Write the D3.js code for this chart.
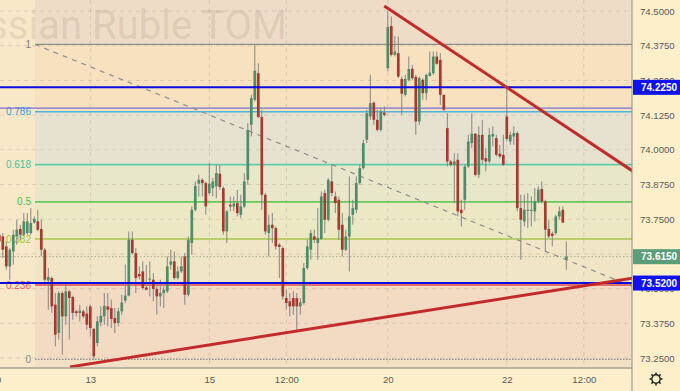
<!DOCTYPE html>
<html><head><meta charset="utf-8">
<script src="https://cdn.jsdelivr.net/npm/d3@7"></script>
<style>
html,body{margin:0;padding:0;background:#fcefca;}
svg{display:block;}
</style></head>
<body><svg id="c" width="680" height="391"></svg>
<script>
// ---- DATA (hourly candles, USD/RUB TOM, index 0 = first visible hour) ----
const opens = [73.694,73.688,73.652,73.580,73.634,73.688,73.715,73.694,73.700,73.700,
73.738,73.742,73.715,73.640,73.529,73.538,73.442,73.340,73.484,73.400,
73.490,73.470,73.418,73.412,73.418,73.410,73.436,73.355,73.304,73.378,
73.400,73.436,73.430,73.394,73.376,73.418,73.457,73.475,73.676,73.628,
73.553,73.562,73.504,73.532,73.532,73.499,73.472,73.484,73.490,73.586,
73.598,73.538,73.562,73.616,73.478,73.664,73.784,73.878,73.892,73.880,
73.844,73.862,73.868,73.914,73.862,73.706,73.802,73.796,73.808,73.766,
73.796,73.892,74.090,74.180,74.276,74.118,73.838,73.700,73.730,73.718,
73.658,73.646,73.466,73.454,73.466,73.466,73.436,73.448,73.574,73.640,
73.688,73.664,73.679,73.844,73.748,73.886,73.832,73.820,73.730,73.640,
73.688,73.766,73.784,73.880,73.934,74.036,74.120,74.170,74.108,74.072,
74.134,74.294,74.446,74.342,74.348,74.255,74.198,74.252,74.292,74.262,
74.102,74.252,74.204,74.266,74.276,74.336,74.324,74.198,74.078,73.958,
73.946,73.964,73.784,73.820,73.940,74.024,74.058,73.910,74.054,73.970,
73.958,74.048,74.042,73.986,73.982,74.120,74.030,74.048,74.060,73.790,
73.742,73.780,73.780,73.778,73.814,73.859,73.814,73.715,73.698,73.700,
73.760,73.784,73.605];
const highs = [73.706,73.700,73.670,73.646,73.712,73.748,73.730,73.772,73.772,73.790,
73.760,73.784,73.748,73.646,73.574,73.544,73.484,73.490,73.490,73.514,
73.496,73.474,73.424,73.442,73.424,73.436,73.442,73.358,73.400,73.436,
73.484,73.484,73.460,73.430,73.430,73.478,73.586,73.706,73.706,73.646,
73.580,73.598,73.586,73.598,73.556,73.508,73.532,73.508,73.616,73.640,
73.634,73.580,73.616,73.628,73.688,73.796,73.886,73.910,73.898,73.886,
73.952,73.898,73.946,73.946,73.868,73.784,73.832,73.832,73.856,73.838,
73.916,74.096,74.198,74.378,74.312,74.144,73.844,73.766,73.772,73.724,
73.664,73.652,73.496,73.484,73.490,73.484,73.466,73.592,73.676,73.712,
73.712,73.790,73.850,73.856,73.898,73.946,73.850,73.832,73.772,73.712,
73.904,73.820,73.904,73.946,74.036,74.144,74.270,74.174,74.144,74.150,
74.156,74.498,74.480,74.410,74.408,74.264,74.270,74.336,74.306,74.270,
74.264,74.258,74.274,74.354,74.354,74.354,74.348,74.198,74.132,73.964,
73.988,73.988,73.820,73.946,74.054,74.132,74.060,74.084,74.108,74.006,
74.078,74.084,74.054,74.018,74.054,74.228,74.066,74.084,74.066,73.838,
73.838,73.844,73.832,73.862,73.868,73.886,73.820,73.748,73.706,73.766,
73.796,73.796,73.670];
const lows = [73.664,73.610,73.568,73.532,73.586,73.658,73.676,73.688,73.694,73.694,
73.734,73.706,73.616,73.514,73.424,73.412,73.292,73.316,73.262,73.370,
73.316,73.388,73.400,73.382,73.394,73.352,73.328,73.244,73.292,73.364,
73.370,73.364,73.358,73.340,73.364,73.406,73.448,73.472,73.622,73.484,
73.532,73.496,73.493,73.472,73.454,73.406,73.436,73.430,73.484,73.568,
73.532,73.532,73.556,73.442,73.472,73.622,73.778,73.832,73.832,73.766,
73.838,73.832,73.826,73.856,73.694,73.664,73.778,73.778,73.760,73.754,
73.790,73.874,74.048,74.174,74.114,73.784,73.694,73.616,73.664,73.640,
73.538,73.460,73.424,73.400,73.406,73.352,73.406,73.442,73.568,73.604,
73.664,73.604,73.676,73.700,73.742,73.832,73.772,73.676,73.616,73.634,
73.562,73.730,73.772,73.874,73.928,74.024,74.108,74.090,74.066,74.066,
74.120,74.282,74.336,74.336,74.258,74.126,74.192,74.246,74.252,74.054,
74.090,74.180,74.180,74.264,74.270,74.306,74.162,74.138,73.940,73.940,
73.808,73.760,73.724,73.784,73.934,74.006,73.904,73.898,73.946,73.922,
73.952,74.012,73.976,73.970,73.942,74.030,74.018,74.018,73.778,73.604,
73.724,73.718,73.724,73.742,73.808,73.808,73.634,73.682,73.652,73.694,
73.748,73.736,73.568];
const closes = [73.670,73.640,73.580,73.640,73.694,73.712,73.694,73.742,73.742,73.736,
73.751,73.712,73.640,73.532,73.542,73.436,73.334,73.484,73.400,73.490,
73.466,73.412,73.412,73.421,73.400,73.370,73.358,73.256,73.382,73.402,
73.438,73.424,73.391,73.376,73.418,73.450,73.475,73.676,73.628,73.538,
73.544,73.502,73.496,73.536,73.499,73.472,73.484,73.496,73.580,73.598,
73.538,73.562,73.580,73.478,73.676,73.784,73.870,73.892,73.880,73.796,
73.878,73.886,73.916,73.866,73.706,73.778,73.796,73.806,73.772,73.796,
73.886,74.072,74.186,74.285,74.118,73.838,73.706,73.730,73.718,73.652,
73.650,73.472,73.448,73.436,73.436,73.436,73.450,73.574,73.652,73.700,
73.676,73.682,73.832,73.748,73.892,73.844,73.808,73.712,73.640,73.688,
73.760,73.790,73.880,73.934,74.024,74.132,74.168,74.108,74.072,74.138,
74.126,74.442,74.342,74.354,74.264,74.202,74.255,74.291,74.258,74.102,
74.258,74.204,74.270,74.278,74.336,74.310,74.198,74.144,73.958,73.946,
73.958,73.778,73.772,73.940,74.030,74.058,73.910,74.054,73.964,73.958,
74.054,74.057,73.982,73.976,73.946,74.039,74.054,74.060,73.790,73.748,
73.784,73.784,73.784,73.814,73.856,73.814,73.712,73.688,73.690,73.760,
73.778,73.738,73.615];

const priceTicks = [73.25,73.375,73.5,73.625,73.75,73.875,74.0,74.125,74.25,74.375,74.5];
const hiddenTickLabels = [73.625];
const timeTickIdx = [-3,26,60,82,111,145,167];
const timeTickLabels = ["12:00","13","15","12:00","20","22","12:00"];
const fibLevels = [1,0.786,0.618,0.5,0.382,0.236,0];
const fibLabels = ["1","0.786","0.618","0.5","0.382","0.236","0"];
const fibHigh = 74.380, fibLow = 73.245, fibStartIdx = 10.2;
const blueLevels = [74.225, 73.52];
const purpleLevel = 74.15;
const lastPrice = 73.615;
const trendDown = [[110,74.518],[181,73.923]];
const trendUp = [[20.2,73.218],[181,73.538]];
const fibDiag = [[10.2,74.380],[181,73.507]];

// ---- LAYOUT ----
const W=680,H=391, plotR=632, plotB=368;
const svg=d3.select("#c");
const x=d3.scaleLinear().domain([0,162]).range([-0.7,566.3]);
const y=d3.scaleLinear().domain([73.25,74.5]).range([358,11]);

svg.append("rect").attr("width",W).attr("height",H).attr("fill","#fcefca");
svg.append("defs").append("clipPath").attr("id","pc").append("rect").attr("width",plotR).attr("height",plotB);
const plot=svg.append("g").attr("clip-path","url(#pc)");
plot.append("rect").attr("width",plotR).attr("height",plotB).attr("fill","#f8e8c8");

// fib zones
const fx=x(fibStartIdx);
const fp=l=>fibLow+(fibHigh-fibLow)*l;
const zoneCols=["#efdcc6","#f7e1bf","#e7e2cf","#e9e7c9","#ece8c4","#f0e5c4","#f2dac3","#f3e1c5"];
const bounds=[0].concat(fibLevels.map(l=>y(fp(l)))).concat([plotB]);
for(let k=0;k<bounds.length-1;k++){
  plot.append("rect").attr("x",fx).attr("y",bounds[k]).attr("width",plotR-fx)
    .attr("height",bounds[k+1]-bounds[k]).attr("fill",zoneCols[k]);
}

// watermark
plot.append("text").attr("x",287).attr("y",39).attr("text-anchor","end")
  .attr("font-family","Roboto, 'Liberation Sans', sans-serif").attr("font-size",40)
  .attr("fill","#8a7560").attr("fill-opacity",0.17).text("U.S. Dollar / Russian Ruble TOM");

// grid
plot.selectAll(".hg").data(priceTicks).enter().append("line")
  .attr("x1",0).attr("x2",plotR).attr("y1",d=>y(d)).attr("y2",d=>y(d))
  .attr("stroke","#b4aaa0").attr("stroke-opacity",0.45).attr("stroke-dasharray","4,4");
plot.selectAll(".vg").data(timeTickIdx).enter().append("line")
  .attr("x1",d=>x(d)).attr("x2",d=>x(d)).attr("y1",0).attr("y2",plotB)
  .attr("stroke","#b4aaa0").attr("stroke-opacity",0.45).attr("stroke-dasharray","4,4");

// fib lines
const fibCols=["#8f8f8f","#4fb3e0","#5ccfa8","#66c95a","#a8c64c","#e04848","#8a8a8a"];
const fibTxt=["#7f7f7f","#3a9fe0","#3fc49a","#4cc04c","#9dc23a","#e85a5a","#8a8a8a"];
fibLevels.forEach((l,k)=>{
  const yy=y(fp(l));
  plot.append("line").attr("x1",fx).attr("x2",plotR).attr("y1",yy).attr("y2",yy)
    .attr("stroke",fibCols[k]).attr("stroke-width",k==0||k==6?1.2:1.6)
    .attr("stroke-dasharray",k==6?"1.5,1.5":null);
  plot.append("text").attr("x",31).attr("y",yy).attr("dy","0.35em").attr("text-anchor","end")
    .attr("font-family","'Liberation Sans', Arial, sans-serif").attr("font-size",10)
    .attr("fill",fibTxt[k]).text(fibLabels[k]);
});

// purple and last-price dotted lines
plot.append("line").attr("x1",0).attr("x2",plotR).attr("y1",y(purpleLevel)).attr("y2",y(purpleLevel))
  .attr("stroke","#7b6fd6").attr("stroke-width",1.4);
plot.append("line").attr("x1",0).attr("x2",plotR).attr("y1",y(lastPrice)).attr("y2",y(lastPrice))
  .attr("stroke","#a6ab8e").attr("stroke-width",1).attr("stroke-dasharray","1.5,2");

// fib diagonal dashed
const ln=d3.line().x(d=>x(d[0])).y(d=>y(d[1]));
plot.append("path").attr("d",ln(fibDiag)).attr("fill","none").attr("stroke","#8f8f8f")
  .attr("stroke-width",1.2).attr("stroke-dasharray","5,5");

// candles
const idx=d3.range(opens.length);
const cg=plot.append("g");
cg.selectAll(".w").data(idx).enter().append("line")
  .attr("x1",i=>x(i)).attr("x2",i=>x(i)).attr("y1",i=>y(highs[i])).attr("y2",i=>y(lows[i]))
  .attr("stroke","#858585").attr("stroke-width",1);
cg.selectAll(".b").data(idx).enter().append("rect")
  .attr("x",i=>x(i)-1.35).attr("width",2.7)
  .attr("y",i=>y(Math.max(opens[i],closes[i])))
  .attr("height",i=>Math.max(1,Math.abs(y(opens[i])-y(closes[i]))))
  .attr("fill",i=>closes[i]>=opens[i]?"#4e8c6a":"#a33b31");

// blue horizontals
blueLevels.forEach(v=>{
  plot.append("line").attr("x1",0).attr("x2",plotR).attr("y1",y(v)).attr("y2",y(v))
    .attr("stroke","#0c0ce0").attr("stroke-width",2);
});

// trend lines
[trendDown,trendUp].forEach(t=>{
  plot.append("path").attr("d",ln(t)).attr("fill","none").attr("stroke","#c32a2a").attr("stroke-width",3);
});

// axes
svg.append("line").attr("x1",0).attr("x2",plotR).attr("y1",plotB).attr("y2",plotB)
  .attr("stroke","#a9a196").attr("stroke-width",1.5);
svg.append("line").attr("x1",plotR).attr("x2",plotR).attr("y1",0).attr("y2",H)
  .attr("stroke","#8c8c8c").attr("stroke-width",1);

const ya=svg.append("g").attr("transform",`translate(${plotR},0)`)
  .call(d3.axisRight(y).tickValues(priceTicks).tickSize(0).tickPadding(8)
    .tickFormat(d=>hiddenTickLabels.includes(d)?"":d3.format(".4f")(d)));
ya.select(".domain").remove();
ya.selectAll("text").attr("font-family","'Liberation Sans', Arial, sans-serif").attr("font-size",9.6).attr("fill","#5c5c5c");

const xa=svg.append("g").attr("transform",`translate(0,${plotB})`)
  .call(d3.axisBottom(x).tickValues(timeTickIdx).tickSize(0).tickPadding(8).tickFormat((d,i)=>timeTickLabels[i]));
xa.select(".domain").remove();
xa.selectAll("text").attr("font-family","'Liberation Sans', Arial, sans-serif").attr("font-size",9.6).attr("fill","#5c5c5c");

// price boxes
const boxes=[[74.225,"#1010f0"],[lastPrice,"#5a9d79"],[73.52,"#1010f0"]];
boxes.forEach(b=>{
  const yy=y(b[0]);
  svg.append("rect").attr("x",plotR+1).attr("y",yy-7.5).attr("width",W-plotR-1).attr("height",15).attr("fill",b[1]);
  svg.append("text").attr("x",plotR+9).attr("y",yy).attr("dy","0.35em")
    .attr("font-family","'Liberation Sans', Arial, sans-serif").attr("font-size",10).attr("font-weight","bold")
    .attr("fill","#ffffff").text(d3.format(".4f")(b[0]));
});

// gear icon
const g=svg.append("g").attr("transform","translate(656,379)");
g.append("circle").attr("r",4.2).attr("fill","none").attr("stroke","#2a2a2a").attr("stroke-width",1.4);
d3.range(8).forEach(k=>{
  const a=k*Math.PI/4;
  g.append("line").attr("x1",Math.cos(a)*4.2).attr("y1",Math.sin(a)*4.2)
   .attr("x2",Math.cos(a)*6.5).attr("y2",Math.sin(a)*6.5).attr("stroke","#2a2a2a").attr("stroke-width",1.6);
});
</script></body></html>
